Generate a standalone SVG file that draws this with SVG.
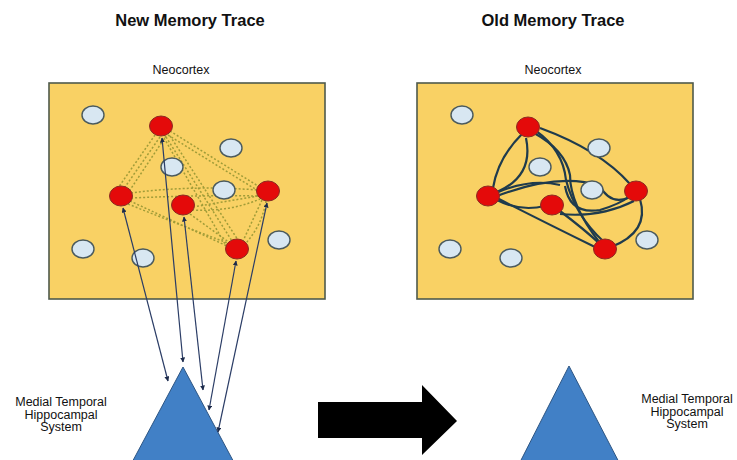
<svg xmlns="http://www.w3.org/2000/svg" width="737" height="460" viewBox="0 0 737 460">
<defs>
<style>
.title{font-family:"Liberation Sans",Arial,sans-serif;font-weight:bold;font-size:16.5px;fill:#111;text-anchor:middle}
.lbl{font-family:"Liberation Sans",Arial,sans-serif;font-size:12.5px;fill:#111;text-anchor:middle}
.sys{font-family:"Liberation Sans",Arial,sans-serif;font-size:12.5px;fill:#111;text-anchor:middle}
.box{fill:#f9d164;stroke:#4f5a4c;stroke-width:1.6}
.blue{fill:#d8e7f2;stroke:#4a5a5e;stroke-width:1.4}
.red{fill:#e40a0a;stroke:#8c2a22;stroke-width:1}
.tri{fill:#4180c6;stroke:#2d5583;stroke-width:1}
.dot{fill:none;stroke:#a09c38;stroke-width:1.5;stroke-dasharray:2 2}
.link{fill:none;stroke:#1f3b4d;stroke-width:2.2}
.arr{fill:none;stroke:#2b3d66;stroke-width:1.2;marker-start:url(#ah);marker-end:url(#ah)}
</style>
<marker id="ah" viewBox="0 0 10 10" refX="9" refY="5" markerWidth="5" markerHeight="5" orient="auto-start-reverse" markerUnits="userSpaceOnUse">
<path d="M0,0 L10,5 L0,10 z" fill="#1c2a4a"/>
</marker>
</defs>
<rect width="737" height="460" fill="#fff"/>

<text class="title" x="190" y="26">New Memory Trace</text>
<text class="title" x="553" y="26">Old Memory Trace</text>

<g id="neocortex-new">
<text class="lbl" x="181" y="74">Neocortex</text>
<rect class="box" x="49" y="83" width="276" height="216"/>
</g>
<g id="neocortex-old">
<text class="lbl" x="553" y="74">Neocortex</text>
<rect class="box" x="417" y="83" width="276" height="216"/>
</g>

<g id="links-new">
<path class="dot" d="M155,135 L118,188"/>
<path class="dot" d="M160,137 L125,187"/>
<path class="dot" d="M166,136 L130,190"/>
<path class="dot" d="M170,131 L258,186"/>
<path class="dot" d="M168,135 L260,192"/>
<path class="dot" d="M166,137 L232,241"/>
<path class="dot" d="M170,136 L238,240"/>
<path class="dot" d="M164,138 L225,244"/>
<path class="dot" d="M131,193 Q190,185 258,190"/>
<path class="dot" d="M131,198 Q200,195 258,196"/>
<path class="dot" d="M130,201 L227,246"/>
<path class="dot" d="M128,204 Q180,225 230,244"/>
<path class="dot" d="M193,207 L258,196"/>
<path class="dot" d="M192,210 Q230,212 260,199"/>
<path class="dot" d="M262,200 L243,241"/>
<path class="dot" d="M266,201 Q262,225 246,243"/>
<path class="dot" d="M190,214 L230,243"/>
</g>

<g id="links-old">
<path class="link" d="M522,134 Q498,158 493,188"/>
<path class="link" d="M526,138 Q534,176 497,192"/>
<path class="link" d="M497,196 Q560,172 600,186 Q610,205 628,198"/>
<path class="link" d="M496,193 Q530,178 560,185"/>
<path class="link" d="M497,200 Q520,212 545,206"/>
<path class="link" d="M560,211 Q585,230 600,244"/>
<path class="link" d="M534,133 Q565,150 570,175 Q570,205 600,243"/>
<path class="link" d="M536,131 Q563,150 566,180 Q575,215 603,241"/>
<path class="link" d="M540,128 Q600,150 630,184"/>
<path class="link" d="M640,199 Q650,232 611,247"/>
<path class="link" d="M565,186 Q570,215 600,210 Q620,204 630,196"/>
<path class="link" d="M560,214 Q600,218 634,201"/>
<path class="link" d="M497,198 Q540,220 597,248"/>
</g>

<g id="nodes-new">
<ellipse class="blue" cx="93" cy="115" rx="11" ry="9"/>
<ellipse class="blue" cx="231" cy="148" rx="11" ry="9"/>
<ellipse class="blue" cx="172" cy="167" rx="11" ry="9"/>
<ellipse class="blue" cx="224" cy="190" rx="11" ry="9"/>
<ellipse class="blue" cx="279" cy="240" rx="11" ry="9"/>
<ellipse class="blue" cx="83" cy="249" rx="11" ry="9"/>
<ellipse class="blue" cx="143" cy="258" rx="11" ry="9"/>
<ellipse class="red" cx="161" cy="126" rx="11.5" ry="10"/>
<ellipse class="red" cx="121" cy="196" rx="11.5" ry="10"/>
<ellipse class="red" cx="183" cy="205" rx="11.5" ry="10"/>
<ellipse class="red" cx="268" cy="191" rx="11.5" ry="10"/>
<ellipse class="red" cx="237" cy="249" rx="11.5" ry="10"/>
</g>

<g id="nodes-old">
<ellipse class="blue" cx="462" cy="115" rx="11" ry="9"/>
<ellipse class="blue" cx="599" cy="148" rx="11" ry="9"/>
<ellipse class="blue" cx="540" cy="167" rx="11" ry="9"/>
<ellipse class="blue" cx="592" cy="190" rx="11" ry="9"/>
<ellipse class="blue" cx="647" cy="240" rx="11" ry="9"/>
<ellipse class="blue" cx="450" cy="249" rx="11" ry="9"/>
<ellipse class="blue" cx="511" cy="258" rx="11" ry="9"/>
<ellipse class="red" cx="528" cy="127" rx="11.5" ry="10"/>
<ellipse class="red" cx="488" cy="196" rx="11.5" ry="10"/>
<ellipse class="red" cx="552" cy="205" rx="11.5" ry="10"/>
<ellipse class="red" cx="636" cy="191" rx="11.5" ry="10"/>
<ellipse class="red" cx="605" cy="249" rx="11.5" ry="10"/>
</g>

<g id="hippocampus-new">
<polygon class="tri" points="183,367 129,468 237,468"/>
<text class="sys" x="61" y="406">Medial Temporal</text>
<text class="sys" x="61" y="418.5">Hippocampal</text>
<text class="sys" x="61" y="431">System</text>
</g>

<g id="hippocampus-old">
<polygon class="tri" points="569,366 517,468 622,468"/>
<text class="sys" x="687" y="403">Medial Temporal</text>
<text class="sys" x="687" y="415.5">Hippocampal</text>
<text class="sys" x="687" y="428">System</text>
</g>

<g id="connectors">
<line class="arr" x1="123" y1="208" x2="168" y2="381"/>
<line class="arr" x1="162" y1="138" x2="183" y2="362"/>
<line class="arr" x1="184" y1="217" x2="203" y2="390"/>
<line class="arr" x1="236" y1="261" x2="209" y2="410"/>
<line class="arr" x1="267" y1="203" x2="218" y2="432"/>
</g>

<g id="transition-arrow">
<polygon points="318,402 422,402 422,385 457,421 422,455 422,438 318,438" fill="#000"/>
</g>
</svg>
